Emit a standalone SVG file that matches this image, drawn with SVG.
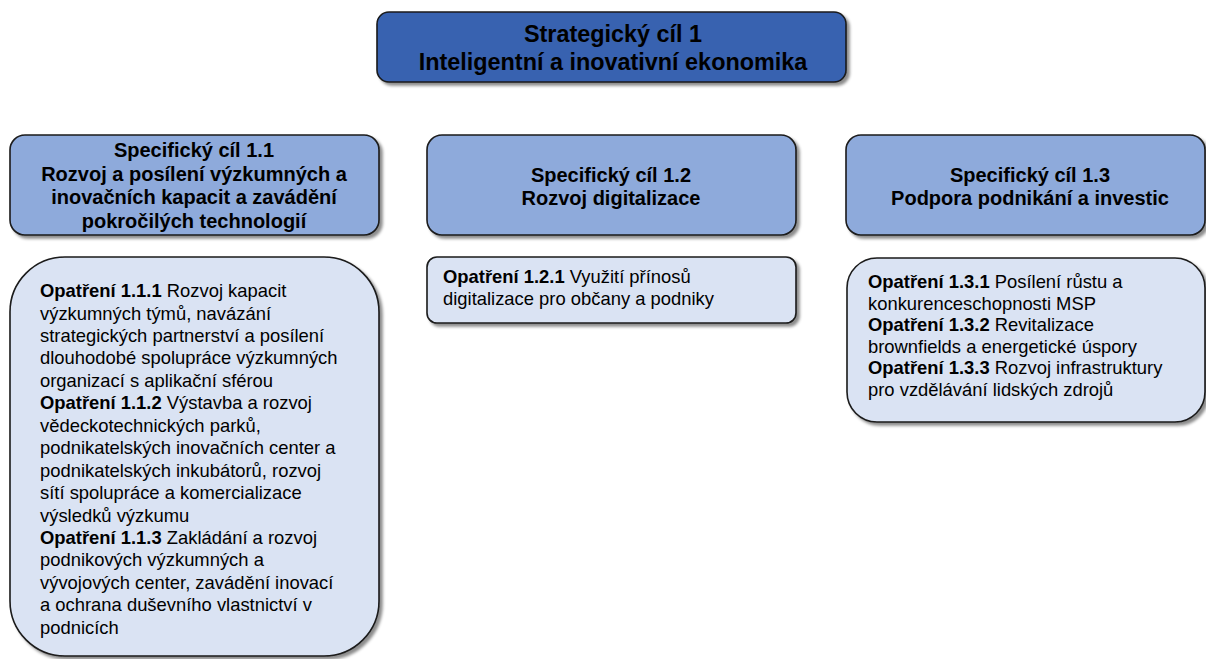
<svg xmlns="http://www.w3.org/2000/svg" width="1206" height="659" viewBox="0 0 1206 659">
<defs>
<filter id="sh" x="-10%" y="-10%" width="120%" height="130%">
<feDropShadow dx="3" dy="3" stdDeviation="1.5" flood-color="#000" flood-opacity="0.45"/>
</filter>
</defs>
<style>
.box{stroke:#1a1a1a;stroke-width:1.6;filter:url(#sh)}
.top{fill:#3862B0}
.sc{fill:#8EAADB}
.op{fill:#DAE3F3}
text{font-family:"Liberation Sans",Arial,sans-serif;fill:#000}
.t1{font-size:23.4px;font-weight:bold;text-anchor:middle}
.t2{font-size:20px;font-weight:bold;text-anchor:middle}
.t3{font-size:18.4px}
.b{font-weight:bold}
</style>
<rect width="1206" height="659" fill="#fff"/>
<g id="strategic">
<rect class="box top" x="377" y="12" width="469" height="70" rx="12"/>
<text class="t1" x="613" y="42">Strategický cíl 1</text>
<text class="t1" x="613" y="70">Inteligentní a inovativní ekonomika</text>
</g>
<g id="sc11">
<rect class="box sc" x="10" y="135" width="369" height="100" rx="15"/>
<text class="t2" x="194" y="157">Specifický cíl 1.1</text>
<text class="t2" x="194" y="180.5">Rozvoj a posílení výzkumných a</text>
<text class="t2" x="194" y="204">inovačních kapacit a zavádění</text>
<text class="t2" x="194" y="227.5">pokročilých technologií</text>
</g>
<g id="sc12">
<rect class="box sc" x="427" y="135" width="369" height="100" rx="15"/>
<text class="t2" x="611" y="182">Specifický cíl 1.2</text>
<text class="t2" x="611" y="205">Rozvoj digitalizace</text>
</g>
<g id="sc13">
<rect class="box sc" x="846" y="135" width="359" height="100" rx="15"/>
<text class="t2" x="1030" y="182">Specifický cíl 1.3</text>
<text class="t2" x="1030" y="205">Podpora podnikání a investic</text>
</g>
<g id="op11">
<rect class="box op" x="10" y="257" width="369" height="399" rx="55"/>
<text class="t3">
<tspan x="40" y="297"><tspan class="b">Opatření 1.1.1</tspan> Rozvoj kapacit</tspan>
<tspan x="40" y="319.5">výzkumných týmů, navázání</tspan>
<tspan x="40" y="342">strategických partnerství a posílení</tspan>
<tspan x="40" y="364.4">dlouhodobé spolupráce výzkumných</tspan>
<tspan x="40" y="386.8">organizací s aplikační sférou</tspan>
<tspan x="40" y="409.3"><tspan class="b">Opatření 1.1.2</tspan> Výstavba a rozvoj</tspan>
<tspan x="40" y="431.7">vědeckotechnických parků,</tspan>
<tspan x="40" y="454.2">podnikatelských inovačních center a</tspan>
<tspan x="40" y="476.6">podnikatelských inkubátorů, rozvoj</tspan>
<tspan x="40" y="499">sítí spolupráce a komercializace</tspan>
<tspan x="40" y="521.5">výsledků výzkumu</tspan>
<tspan x="40" y="544"><tspan class="b">Opatření 1.1.3</tspan> Zakládání a rozvoj</tspan>
<tspan x="40" y="566.4">podnikových výzkumných a</tspan>
<tspan x="40" y="588.8">vývojových center, zavádění inovací</tspan>
<tspan x="40" y="611.3">a ochrana duševního vlastnictví v</tspan>
<tspan x="40" y="633.7">podnicích</tspan>
</text>
</g>
<g id="op12">
<rect class="box op" x="427" y="257" width="369" height="66" rx="10"/>
<text class="t3">
<tspan x="443" y="283"><tspan class="b">Opatření 1.2.1</tspan> Využití přínosů</tspan>
<tspan x="443" y="305">digitalizace pro občany a podniky</tspan>
</text>
</g>
<g id="op13">
<rect class="box op" x="847" y="258" width="358" height="164" rx="30"/>
<text class="t3">
<tspan x="868" y="288"><tspan class="b">Opatření 1.3.1</tspan> Posílení růstu a</tspan>
<tspan x="868" y="309.6">konkurenceschopnosti MSP</tspan>
<tspan x="868" y="331.2"><tspan class="b">Opatření 1.3.2</tspan> Revitalizace</tspan>
<tspan x="868" y="352.8">brownfields a energetické úspory</tspan>
<tspan x="868" y="374.4"><tspan class="b">Opatření 1.3.3</tspan> Rozvoj infrastruktury</tspan>
<tspan x="868" y="396">pro vzdělávání lidských zdrojů</tspan>
</text>
</g>
</svg>
